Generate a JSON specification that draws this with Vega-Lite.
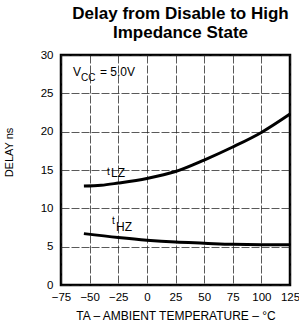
{
  "$schema": "https://vega.github.io/schema/vega-lite/v6.json",
  "width": 229,
  "height": 230,
  "autosize": "none",
  "padding": {"left": 61, "top": 55, "right": 9, "bottom": 44},
  "background": "white",
  "title": {
    "text": ["Delay from Disable to High", "Impedance State"],
    "font": "Liberation Sans",
    "fontSize": 17,
    "fontWeight": "bold",
    "color": "black",
    "anchor": "middle",
    "dx": 5,
    "offset": 7,
    "lineHeight": 19
  },
  "config": {
    "view": {"stroke": "black", "strokeWidth": 2.5},
    "font": "Liberation Sans",
    "axis": {
      "grid": true,
      "gridColor": "#222",
      "gridDash": [8, 2],
      "gridWidth": 1,
      "gridOpacity": 0.75,
      "domain": false,
      "ticks": false,
      "labelOverlap": false,
      "labelFlush": false,
      "labelFont": "Liberation Sans",
      "labelFontSize": 11.5,
      "labelColor": "black",
      "titleFont": "Liberation Sans",
      "titleFontSize": 12,
      "titleFontWeight": "normal",
      "titleColor": "black"
    }
  },
  "datasets": {
    "curves": [
      {"temp": -55, "delay": 12.9, "series": "tLZ"},
      {"temp": -40, "delay": 13.0, "series": "tLZ"},
      {"temp": -25, "delay": 13.3, "series": "tLZ"},
      {"temp": 0, "delay": 13.9, "series": "tLZ"},
      {"temp": 25, "delay": 14.8, "series": "tLZ"},
      {"temp": 50, "delay": 16.3, "series": "tLZ"},
      {"temp": 75, "delay": 18.0, "series": "tLZ"},
      {"temp": 100, "delay": 19.9, "series": "tLZ"},
      {"temp": 125, "delay": 22.3, "series": "tLZ"},
      {"temp": -55, "delay": 6.7, "series": "tHZ"},
      {"temp": -25, "delay": 6.2, "series": "tHZ"},
      {"temp": 0, "delay": 5.85, "series": "tHZ"},
      {"temp": 25, "delay": 5.6, "series": "tHZ"},
      {"temp": 50, "delay": 5.45, "series": "tHZ"},
      {"temp": 75, "delay": 5.3, "series": "tHZ"},
      {"temp": 100, "delay": 5.25, "series": "tHZ"},
      {"temp": 125, "delay": 5.25, "series": "tHZ"}
    ],
    "bigText": [
      {"temp": -64.5, "delay": 27.3, "label": "V"},
      {"temp": -41, "delay": 27.3, "label": "= 5.0V"},
      {"temp": -31.3, "delay": 14.1, "label": "LZ"},
      {"temp": -27, "delay": 7.04, "label": "HZ"}
    ],
    "smallText": [
      {"temp": -57.5, "delay": 26.6, "label": "CC"},
      {"temp": -34.8, "delay": 14.35, "label": "t"},
      {"temp": -30.5, "delay": 7.96, "label": "t"}
    ]
  },
  "encoding": {
    "x": {
      "field": "temp", "type": "quantitative",
      "scale": {"domain": [-75, 125], "nice": false},
      "axis": {"values": [-75, -50, -25, 0, 25, 50, 75, 100, 125], "labelPadding": 6, "title": "TA – AMBIENT TEMPERATURE – °C", "titlePadding": 8}
    },
    "y": {
      "field": "delay", "type": "quantitative",
      "scale": {"domain": [0, 30], "nice": false},
      "axis": {"values": [0, 5, 10, 15, 20, 25, 30], "labelPadding": 8, "title": "DELAY   ns", "titleFontSize": 11, "titleX": -47, "titleY": 97}
    }
  },
  "layer": [
    {
      "data": {"name": "curves"},
      "mark": {"type": "line", "color": "black", "strokeWidth": 3, "interpolate": "monotone"},
      "encoding": {
        "detail": {"field": "series"}
      }
    },
    {
      "data": {"name": "bigText"},
      "mark": {"type": "text", "align": "left", "baseline": "alphabetic", "fontSize": 12, "color": "black"},
      "encoding": {
        "text": {"field": "label"}
      }
    },
    {
      "data": {"name": "smallText"},
      "mark": {"type": "text", "align": "left", "baseline": "alphabetic", "fontSize": 10, "color": "black"},
      "encoding": {
        "text": {"field": "label"}
      }
    }
  ]
}
